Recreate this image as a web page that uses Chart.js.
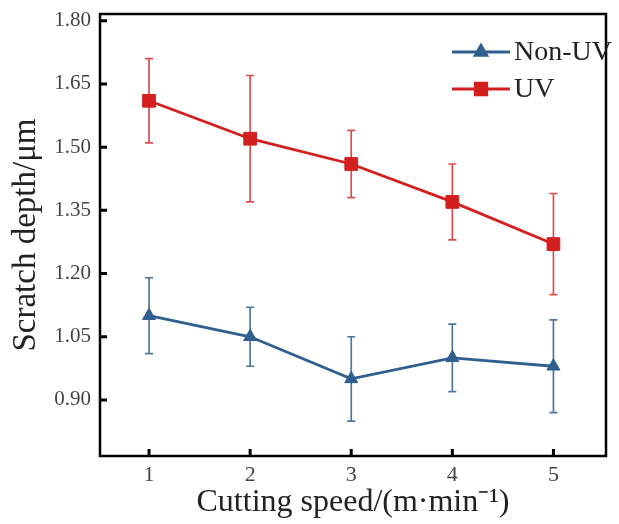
<!DOCTYPE html>
<html>
<head>
<meta charset="utf-8">
<script src="https://cdn.jsdelivr.net/npm/chart.js@4"></script>
<style>
  html, body { margin: 0; padding: 0; background: #fff; }
  #wrap { width: 619px; height: 524px; }
</style>
</head>
<body>
<div id="wrap"><canvas id="grafico"></canvas></div>
<script>
// data
const speeds = [1, 2, 3, 4, 5];
const uvDepth = [1.61, 1.52, 1.46, 1.37, 1.27];
const uvErrLow = [1.51, 1.37, 1.38, 1.28, 1.15];
const uvErrHigh = [1.71, 1.67, 1.54, 1.46, 1.39];
const nonUvDepth = [1.10, 1.05, 0.95, 1.00, 0.98];
const nonUvErrLow = [1.01, 0.98, 0.85, 0.92, 0.87];
const nonUvErrHigh = [1.19, 1.12, 1.05, 1.08, 1.09];
const yTicks = [0.90, 1.05, 1.20, 1.35, 1.50, 1.65, 1.80];
const xTicks = [1, 2, 3, 4, 5];

const RED = '#d41f1f';
const BLUE = '#2f5f8e';
const FONT = '"Liberation Serif", "Times New Roman", serif';

function pontos(vals) {
    return speeds.map((s, i) => ({ x: s, y: vals[i] }));
}

// error bars, box frame, inward ticks and legend
const extras = {
    id: 'extras',
    beforeDatasetsDraw(chart) {
        const ctx = chart.ctx;
        const xs = chart.scales.x, ys = chart.scales.y;
        const barras = [
            { low: nonUvErrLow, high: nonUvErrHigh, cor: 'rgba(47,95,142,0.85)' },
            { low: uvErrLow, high: uvErrHigh, cor: 'rgba(212,31,31,0.8)' }
        ];
        ctx.save();
        ctx.lineWidth = 1.7;
        barras.forEach(b => {
            ctx.strokeStyle = b.cor;
            speeds.forEach((s, i) => {
                const px = xs.getPixelForValue(s);
                const y1 = ys.getPixelForValue(b.low[i]);
                const y2 = ys.getPixelForValue(b.high[i]);
                ctx.beginPath();
                ctx.moveTo(px, y1); ctx.lineTo(px, y2);
                ctx.moveTo(px - 4, y1); ctx.lineTo(px + 4, y1);
                ctx.moveTo(px - 4, y2); ctx.lineTo(px + 4, y2);
                ctx.stroke();
            });
        });
        ctx.restore();
    },
    afterDraw(chart) {
        const ctx = chart.ctx;
        const a = chart.chartArea;
        const xs = chart.scales.x, ys = chart.scales.y;
        ctx.save();
        ctx.strokeStyle = '#000';
        ctx.lineWidth = 2.5;
        ctx.strokeRect(a.left, a.top, a.right - a.left, a.bottom - a.top);
        ctx.lineWidth = 3;
        ctx.beginPath();
        xTicks.forEach(t => {
            const px = xs.getPixelForValue(t);
            ctx.moveTo(px, a.bottom); ctx.lineTo(px, a.bottom - 7);
        });
        yTicks.forEach(t => {
            const py = ys.getPixelForValue(t);
            ctx.moveTo(a.left, py); ctx.lineTo(a.left + 7, py);
        });
        ctx.stroke();

        // legend
        const itens = [
            { texto: 'Non-UV', cor: BLUE, estilo: 'triangle', raio: 6.5, y: 52 },
            { texto: 'UV', cor: RED, estilo: 'rect', raio: 8, y: 89 }
        ];
        itens.forEach(it => {
            ctx.strokeStyle = it.cor;
            ctx.lineWidth = 3;
            ctx.beginPath();
            ctx.moveTo(452, it.y); ctx.lineTo(510, it.y);
            ctx.stroke();
            Chart.helpers.drawPoint(ctx, {
                pointStyle: it.estilo, radius: it.raio, rotation: 0, borderWidth: 1
            }, 481, it.y);
            ctx.fillStyle = it.cor;
            ctx.fill();
            ctx.fillStyle = '#222';
            ctx.font = '28px ' + FONT;
            ctx.textBaseline = 'middle';
            ctx.textAlign = 'left';
            ctx.fillText(it.texto, 514, it.y + 1);
        });
        ctx.restore();
    }
};

const ctx = document.getElementById('grafico').getContext('2d');
new Chart(ctx, {
    type: 'line',
    data: {
        datasets: [{
            label: 'Non-UV',
            data: pontos(nonUvDepth),
            borderColor: BLUE,
            backgroundColor: BLUE,
            borderWidth: 2.8,
            pointStyle: 'triangle',
            pointRadius: 7.5,
            pointBorderWidth: 1
        }, {
            label: 'UV',
            data: pontos(uvDepth),
            borderColor: RED,
            backgroundColor: RED,
            borderWidth: 2.8,
            pointStyle: 'rect',
            pointRadius: 9,
            pointBorderWidth: 1
        }]
    },
    options: {
        responsive: true,
        maintainAspectRatio: false,
        animation: false,
        layout: { padding: { top: 14, right: 13, left: 0, bottom: 0 } },
        plugins: {
            legend: { display: false },
            tooltip: { enabled: false }
        },
        scales: {
            x: {
                type: 'linear',
                min: 0.515,
                max: 5.52,
                afterBuildTicks: axis => { axis.ticks = xTicks.map(v => ({ value: v })); },
                afterFit: axis => { axis.height = 68; axis.paddingLeft = 0; axis.paddingRight = 0; },
                grid: { display: false, drawTicks: false },
                border: { display: false },
                ticks: {
                    color: '#444',
                    padding: 6,
                    font: { family: FONT, size: 22 },
                    callback: v => String(v)
                },
                title: {
                    display: true,
                    text: 'Cutting speed/(m·min⁻¹)',
                    color: '#222',
                    padding: { top: 0, bottom: 5 },
                    font: { family: FONT, size: 32, lineHeight: 1 }
                }
            },
            y: {
                min: 0.767,
                max: 1.816,
                afterBuildTicks: axis => { axis.ticks = yTicks.map(v => ({ value: v })); },
                afterFit: axis => { axis.width = 100; axis.paddingTop = 0; axis.paddingBottom = 0; },
                grid: { display: false, drawTicks: false },
                border: { display: false },
                ticks: {
                    color: '#444',
                    padding: 9,
                    font: { family: FONT, size: 21 },
                    callback: v => v.toFixed(2)
                },
                title: {
                    display: true,
                    text: 'Scratch depth/μm',
                    color: '#222',
                    padding: { top: 10, bottom: 0 },
                    font: { family: FONT, size: 33, lineHeight: 1 }
                }
            }
        }
    },
    plugins: [extras]
});
</script>
</body>
</html>
